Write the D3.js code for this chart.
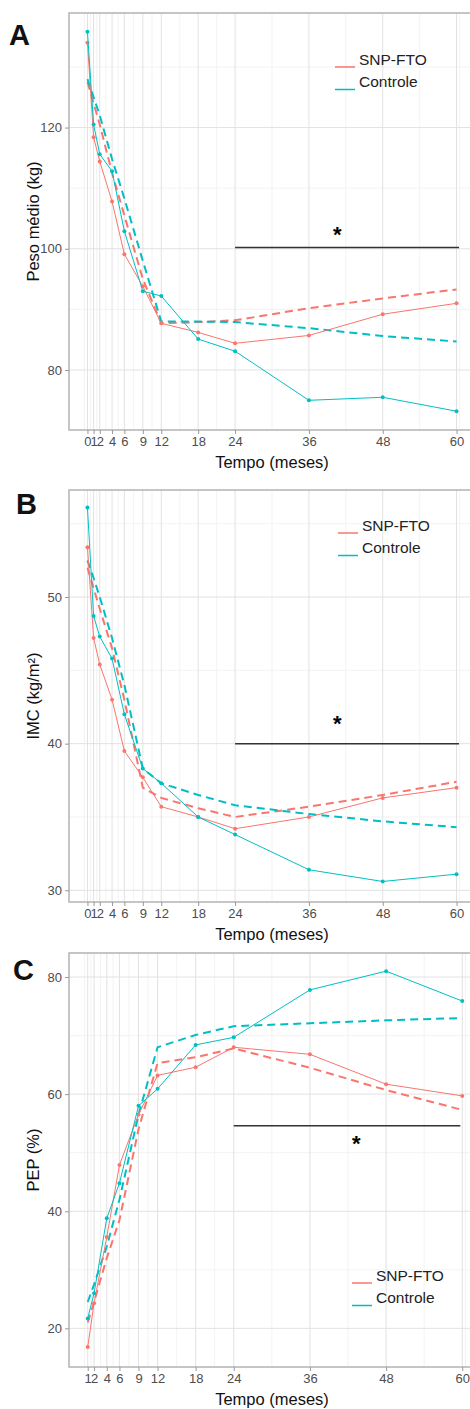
<!DOCTYPE html>
<html>
<head>
<meta charset="utf-8">
<script src="https://cdn.jsdelivr.net/npm/d3@7"></script>
<style>
body { margin: 0; background: #fff; }
svg { display: block; font-family: "Liberation Sans", Arial, sans-serif; }
</style>
</head>
<body>
<div id="main"></div>
<script>
"use strict";

// time points (months)
const monthsAB = [0, 1, 2, 4, 6, 9, 12, 18, 24, 36, 48, 60];
const monthsC = [1, 2, 4, 6, 9, 12, 18, 24, 36, 48, 60];

// A - peso medio (kg)
const pesoSnp = [134.0, 118.4, 114.4, 107.8, 99.1, 93.8, 87.7, 86.2, 84.4, 85.7, 89.2, 91.0];
const pesoCtrl = [135.8, 120.5, 115.6, 112.8, 102.9, 93.0, 92.2, 85.1, 83.1, 75.0, 75.5, 73.2];
const pesoSnpFit = [127.5, 124.0, 120.5, 112.5, 105.5, 95.0, 87.7, 87.9, 88.2, 90.2, 91.8, 93.3];
const pesoCtrlFit = [128.0, 125.0, 122.0, 114.8, 108.3, 98.0, 88.0, 88.0, 87.9, 86.9, 85.6, 84.7];

// B - IMC (kg/m2)
const imcSnp = [53.4, 47.2, 45.4, 43.0, 39.5, 37.7, 35.7, 35.0, 34.2, 35.0, 36.3, 37.0];
const imcCtrl = [56.1, 48.7, 47.3, 45.8, 42.0, 38.3, 37.3, 35.0, 33.8, 31.4, 30.6, 31.1];
const imcSnpFit = [52.0, 50.6, 49.2, 46.5, 43.0, 37.0, 36.3, 35.6, 35.0, 35.7, 36.5, 37.4];
const imcCtrlFit = [52.5, 51.3, 50.0, 47.2, 44.0, 38.3, 37.3, 36.5, 35.8, 35.2, 34.7, 34.3];

// C - PEP (%)
const pepSnp = [16.8, 24.3, 35.6, 47.9, 56.5, 63.2, 64.6, 68.0, 66.8, 61.7, 59.7];
const pepCtrl = [21.7, 26.0, 38.8, 44.8, 58.0, 60.9, 68.4, 69.7, 77.8, 81.0, 75.9];
const pepSnpFit = [21.0, 24.5, 32.0, 38.5, 54.0, 65.3, 66.3, 67.8, 64.5, 60.7, 57.3];
const pepCtrlFit = [24.5, 27.5, 34.0, 42.0, 56.5, 68.0, 70.1, 71.6, 72.1, 72.6, 73.0];

// y ticks
const yTicksA = [80, 100, 120];
const yTicksB = [30, 40, 50];
const yTicksC = [20, 40, 60, 80];

// significance bar (from, to, level) and star (month, value)
const sigA = { from: 24, to: 60.4, level: 100.2, star: [40.6, 102.6] };
const sigB = { from: 24, to: 60.4, level: 40.0, star: [40.6, 41.5] };
const sigC = { from: 24, to: 59.7, level: 54.6, star: [43.3, 51.9] };

const seriesNames = ["SNP-FTO", "Controle"];
const colSnp = "#F8766D", colCtrl = "#00BFC4";

const W = 470, H = 1409, LEFT = 69;

const svg = d3.select("#main").append("svg")
    .attr("width", W).attr("height", H);

const panels = [
    { letter: "A", letterPos: [9, 45], ylab: "Peso médio (kg)", months: monthsAB,
      snp: pesoSnp, ctrl: pesoCtrl, snpFit: pesoSnpFit, ctrlFit: pesoCtrlFit,
      xDom: [-3, 63], yDom: [70.1, 138.9], yTicks: yTicksA,
      top: 13, bottom: 430, right: 475, sig: sigA, legend: [335, 67] },
    { letter: "B", letterPos: [16, 514], ylab: "IMC (kg/m²)", months: monthsAB,
      snp: imcSnp, ctrl: imcCtrl, snpFit: imcSnpFit, ctrlFit: imcCtrlFit,
      xDom: [-3, 63], yDom: [29.2, 57.3], yTicks: yTicksB,
      top: 490, bottom: 902, right: 475, sig: sigB, legend: [338, 533] },
    { letter: "C", letterPos: [13, 980], ylab: "PEP (%)", months: monthsC,
      snp: pepSnp, ctrl: pepCtrl, snpFit: pepSnpFit, ctrlFit: pepCtrlFit,
      xDom: [-1.95, 62.95], yDom: [13.4, 84.1], yTicks: yTicksC,
      top: 953, bottom: 1367, right: 481, sig: sigC, legend: [352, 1283] }
];

// ggplot style minor breaks: midpoints, extended by first step at both ends
function minorBreaks(b, dom){
    const bd = b[1] - b[0];
    let ext = b.slice();
    if (dom[0] < ext[0]) ext.unshift(ext[0] - bd);
    if (dom[1] > ext[ext.length - 1]) ext.push(ext[ext.length - 1] + bd);
    const out = [];
    for (let i = 0; i < ext.length - 1; i++) out.push((ext[i] + ext[i + 1]) / 2);
    return out.filter(v => v >= dom[0] && v <= dom[1]);
}

panels.forEach(function(p){
    const x = d3.scaleLinear().domain(p.xDom).range([LEFT, p.right]);
    const y = d3.scaleLinear().domain(p.yDom).range([p.bottom, p.top]);
    const g = svg.append("g");

    // grid
    const grid = g.append("g");
    grid.selectAll(".vminor").data(minorBreaks(p.months, p.xDom)).join("line")
        .attr("x1", d => x(d)).attr("x2", d => x(d))
        .attr("y1", p.top).attr("y2", p.bottom)
        .attr("stroke", "#f0f0f0").attr("stroke-width", 0.8);
    grid.selectAll(".hminor").data(minorBreaks(p.yTicks, p.yDom)).join("line")
        .attr("x1", LEFT).attr("x2", p.right)
        .attr("y1", d => y(d)).attr("y2", d => y(d))
        .attr("stroke", "#f0f0f0").attr("stroke-width", 0.8);
    grid.selectAll(".vmajor").data(p.months).join("line")
        .attr("x1", d => x(d)).attr("x2", d => x(d))
        .attr("y1", p.top).attr("y2", p.bottom)
        .attr("stroke", "#e2e2e2").attr("stroke-width", 1);
    grid.selectAll(".hmajor").data(p.yTicks).join("line")
        .attr("x1", LEFT).attr("x2", p.right)
        .attr("y1", d => y(d)).attr("y2", d => y(d))
        .attr("stroke", "#e2e2e2").attr("stroke-width", 1);

    // series
    const line = d3.line().x(d => x(d[0])).y(d => y(d[1]));
    const zip = arr => p.months.map((m, i) => [m, arr[i]]);
    const series = [
        { vals: p.snpFit, col: colSnp, dash: "8,5", w: 2, pts: false },
        { vals: p.ctrlFit, col: colCtrl, dash: "8,5", w: 2, pts: false },
        { vals: p.snp, col: colSnp, dash: null, w: 1, pts: true },
        { vals: p.ctrl, col: colCtrl, dash: null, w: 1, pts: true }
    ];
    series.forEach(function(s){
        g.append("path").datum(zip(s.vals))
            .attr("d", line)
            .attr("fill", "none")
            .attr("stroke", s.col)
            .attr("stroke-width", s.w)
            .attr("stroke-dasharray", s.dash);
        if (s.pts) {
            g.selectAll(null).data(zip(s.vals)).join("circle")
                .attr("cx", d => x(d[0])).attr("cy", d => y(d[1]))
                .attr("r", 2).attr("fill", s.col);
        }
    });

    // significance bar + star
    g.append("line")
        .attr("x1", x(p.sig.from)).attr("x2", x(p.sig.to))
        .attr("y1", y(p.sig.level)).attr("y2", y(p.sig.level))
        .attr("stroke", "#333").attr("stroke-width", 1.5);
    g.append("text")
        .attr("x", x(p.sig.star[0])).attr("y", y(p.sig.star[1]) + 9)
        .attr("text-anchor", "middle")
        .style("font-size", "22px").style("font-weight", "bold")
        .text("*");

    // border
    g.append("rect")
        .attr("x", LEFT).attr("y", p.top)
        .attr("width", p.right - LEFT).attr("height", p.bottom - p.top)
        .attr("fill", "none").attr("stroke", "#b3b3b3").attr("stroke-width", 1.5);

    // axes
    const xAxis = g.append("g").attr("transform", "translate(0," + p.bottom + ")")
        .call(d3.axisBottom(x).tickValues(p.months).tickSize(4).tickPadding(3).tickFormat(d3.format("d")));
    const yAxis = g.append("g").attr("transform", "translate(" + LEFT + ",0)")
        .call(d3.axisLeft(y).tickValues(p.yTicks).tickSize(4).tickPadding(3).tickFormat(d3.format("d")));
    [xAxis, yAxis].forEach(function(a){
        a.select(".domain").remove();
        a.selectAll(".tick line").attr("stroke", "#999");
        a.selectAll(".tick text").attr("fill", "#4d4d4d")
            .style("font-size", "13px").style("font-family", "Liberation Sans, Arial, sans-serif");
    });

    // axis titles
    g.append("text")
        .attr("x", (LEFT + 475) / 2).attr("y", p.bottom + 38)
        .attr("text-anchor", "middle")
        .style("font-size", "16.5px").attr("fill", "#111")
        .text("Tempo (meses)");
    g.append("text")
        .attr("transform", "translate(39," + (p.top + p.bottom) / 2 + ") rotate(-90)")
        .attr("text-anchor", "middle")
        .style("font-size", "16.5px").attr("fill", "#111")
        .text(p.ylab);

    // panel letter
    g.append("text")
        .attr("x", p.letterPos[0]).attr("y", p.letterPos[1])
        .style("font-size", "29px").style("font-weight", "bold")
        .attr("fill", "#111")
        .text(p.letter);

    // legend
    const lg = g.append("g").attr("transform", "translate(" + p.legend[0] + "," + p.legend[1] + ")");
    [colSnp, colCtrl].forEach(function(c, i){
        lg.append("line")
            .attr("x1", 0).attr("x2", 20)
            .attr("y1", i * 22.5).attr("y2", i * 22.5)
            .attr("stroke", c).attr("stroke-width", 1.5);
        lg.append("text")
            .attr("x", 24).attr("y", i * 22.5 - 8)
            .attr("dominant-baseline", "central")
            .style("font-size", "15.5px").attr("fill", "#222")
            .text(seriesNames[i]);
    });
});
</script>
</body>
</html>
